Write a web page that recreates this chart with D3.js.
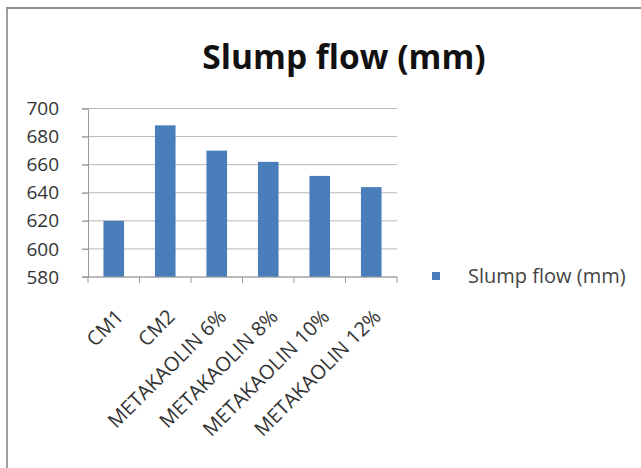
<!DOCTYPE html>
<html><head><meta charset="utf-8">
<script src="https://cdn.jsdelivr.net/npm/d3@7"></script>
<style>body{margin:0;background:#fff;}svg{display:block;font-family:"Open Sans",sans-serif;}</style>
</head><body>
<script>
const categories = ["CM1","CM2","METAKAOLIN 6%","METAKAOLIN 8%","METAKAOLIN 10%","METAKAOLIN 12%"];
const values = [620, 688, 670, 662, 652, 644];
const yTicks = [580, 600, 620, 640, 660, 680, 700];
const seriesName = "Slump flow (mm)";
const title = "Slump flow (mm)";

const W = 641, H = 468;
const FONT = "'Open Sans',sans-serif";
const svg = d3.select("body").append("svg").attr("width", W).attr("height", H);
svg.append("rect").attr("width", W).attr("height", H).attr("fill", "#fff");
// frame
svg.append("line").attr("x1",7).attr("x2",7).attr("y1",8).attr("y2",H).attr("stroke","#a0a0a0").attr("stroke-width",2);
svg.append("line").attr("x1",6).attr("x2",W).attr("y1",8).attr("y2",8).attr("stroke","#909090").attr("stroke-width",2);

const plot = {l: 88, r: 397, t: 108.5, b: 277};
const x = d3.scaleBand().domain(categories).range([plot.l, plot.r]).paddingInner(0.6).paddingOuter(0.3);
const y = d3.scaleLinear().domain([580, 700]).range([plot.b, plot.t]);

// gridlines
svg.append("g").selectAll("line").data(yTicks).join("line")
  .attr("x1", plot.l - 6).attr("x2", plot.r).attr("y1", d => y(d)).attr("y2", d => y(d))
  .attr("stroke", "#b8b8b8").attr("stroke-width", 1);

// bars
svg.append("g").selectAll("rect").data(values).join("rect")
  .attr("x", (d,i) => x(categories[i])).attr("width", x.bandwidth())
  .attr("y", d => y(d)).attr("height", d => y(580) - y(d))
  .attr("fill", "#4a7ebb");

// y axis
const yAxis = svg.append("g").attr("transform", `translate(${plot.l},0)`)
  .call(d3.axisLeft(y).tickValues(yTicks).tickSize(6).tickPadding(23).tickFormat(d3.format("d")));
yAxis.select(".domain").attr("stroke", "#9a9a9a");
yAxis.selectAll(".tick line").attr("stroke", "#9a9a9a");
yAxis.selectAll("text").attr("font-size", 19).attr("fill", "#333").attr("font-family", FONT);

// x axis
const step = x.step();
const xAxis = svg.append("g").attr("transform", `translate(0,${plot.b})`)
  .call(d3.axisBottom(x).tickSize(0).tickPadding(0));
xAxis.select(".domain").remove();
svg.append("line").attr("x1", plot.l - 6).attr("x2", plot.r).attr("y1", plot.b).attr("y2", plot.b).attr("stroke", "#9a9a9a");
const bounds = categories.map((c,i) => x(c) + x.bandwidth()/2 + step/2);
svg.append("g").selectAll("line").data([plot.l].concat(bounds)).join("line")
  .attr("x1", d => d).attr("x2", d => d).attr("y1", plot.b).attr("y2", plot.b + 6).attr("stroke", "#9a9a9a");
xAxis.selectAll("text")
  .attr("font-size", 20).attr("fill", "#333").attr("font-family", FONT)
  .attr("text-anchor", "end").attr("dy", "0.35em")
  .attr("transform", "translate(6,36) rotate(-45)");

// title
svg.append("text").attr("x", 344).attr("y", 69).attr("text-anchor", "middle")
  .attr("font-size", 33.5).attr("font-weight", "bold").attr("fill", "#111").text(title);

// legend
svg.append("rect").attr("x", 432).attr("y", 272).attr("width", 8).attr("height", 8).attr("fill", "#4a7ebb");
svg.append("text").attr("x", 468).attr("y", 276).attr("dy", "0.35em").attr("font-size", 20).attr("fill", "#444").text(seriesName);
</script>
</body></html>
